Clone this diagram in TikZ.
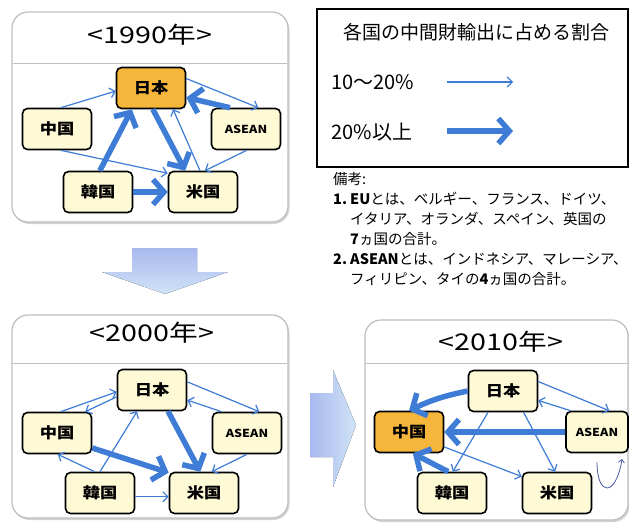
\documentclass[tikz,border=0pt]{standalone}
\usepackage{fontspec}
\setmainfont{Noto Sans CJK JP}
\newfontfamily\boxfont[FakeStretch=1.15]{Noto Sans CJK JP}
\newfontfamily\yearfont[FakeStretch=1.25]{Noto Sans CJK JP}
\usetikzlibrary{arrows.meta,shadows}
\definecolor{flowblue}{RGB}{62,124,214}
\definecolor{boxcream}{RGB}{255,250,214}
\definecolor{hubgold}{RGB}{246,182,60}
\definecolor{framegray}{RGB}{190,190,190}
\definecolor{penblue}{RGB}{72,92,165}
\definecolor{bigtop}{RGB}{168,184,238}
\definecolor{bigbot}{RGB}{208,228,246}
\begin{document}
\begin{tikzpicture}[x=1pt,y=-1pt,
    country/.style={draw,line width=1.6pt,rounded corners=5pt,fill=boxcream,
      minimum width=69pt,minimum height=41pt,inner sep=0pt,
      font=\boxfont\bfseries\fontsize{15}{15}\selectfont},
    hub/.style={country,fill=hubgold},
    asean/.style={font=\boxfont\bfseries\fontsize{11}{11}\selectfont},
    lo/.style={draw=flowblue,line width=1.2pt,-{Straight Barb[length=5pt,width=10pt]}},
    hi/.style={draw=flowblue,line width=5.5pt,-{Straight Barb[length=11pt,width=25pt]}},
    panel/.style={draw=framegray,line width=1.2pt,rounded corners=16pt,fill=white,
      drop shadow={shadow xshift=1.5pt,shadow yshift=-2pt,opacity=.35}},
    year/.style={font=\yearfont\fontsize{23}{23}\selectfont},
    bigarrow/.style={draw=none,top color=bigtop,bottom color=bigbot}]
  \useasboundingbox (0,0) rectangle (629,531);

  % panels
  \draw[panel] (12,12) rectangle (288,222);
  \draw[framegray] (13,63) -- (287,63);
  \node[year] (t90) at (150,35) {<1990年>};
  \draw[panel] (12,315) rectangle (288,518);
  \draw[framegray] (13,363) -- (287,363);
  \node[year] (t00) at (152,333) {<2000年>};
  \draw[panel] (365,320) rectangle (628,520);
  \draw[framegray] (366,363) -- (627,363);
  \node[year] (t10) at (501,342) {<2010年>};

  \fill[bigarrow] (132,248) -- (197,248) -- (197,272) -- (228,272) -- (165,294)
    -- (102,272) -- (132,272) -- cycle;
  \fill[left color=bigtop,right color=bigbot] (310,393) -- (333,393) -- (333,370)
    -- (356,425) -- (333,487) -- (333,457) -- (310,457) -- cycle;

  % legend
  \draw[line width=1.4pt] (317,9) rectangle (628,167);
  \node[font=\fontsize{19}{19}\selectfont] (legtitle) at (476,32) {各国の中間財輸出に占める割合};
  \node[anchor=west,font=\fontsize{20}{20}\selectfont] (leglo) at (328,82) {10〜20\%};
  \node[anchor=west,font=\fontsize{20}{20}\selectfont] (leghi) at (328,132) {20\%以上};
  \coordinate (lo-s) at (447,82);  \coordinate (lo-e) at (513,82);
  \coordinate (hi-s) at (447,131); \coordinate (hi-e) at (513,131);
  \draw[lo] (lo-s) -- (lo-e);
  \draw[hi] (hi-s) -- (hi-e);
  \node[anchor=north west,align=left,inner sep=0pt,font=\fontsize{14.5}{20}\selectfont] (notes) at (333,172) {備考:\\
    \makebox[17pt][l]{\textbf{1.}}\textbf{EU}とは、ベルギー、フランス、ドイツ、\\
    \hspace*{17pt}イタリア、オランダ、スペイン、英国の\\
    \hspace*{17pt}\textbf{7}ヵ国の合計。\\
    \makebox[17pt][l]{\textbf{2.}}\textbf{ASEAN}とは、インドネシア、マレーシア、\\
    \hspace*{17pt}フィリピン、タイの\textbf{4}ヵ国の合計。};

  % 1990
  \node[hub] (jp90) at (151,88) {日本};
  \node[country] (cn90) at (57,129) {中国};
  \node[country,asean] (as90) at (246,129) {ASEAN};
  \node[country] (kr90) at (98,192) {韓国};
  \node[country] (us90) at (203,192) {米国};
  \draw[lo] (cn90.80) -- (jp90.185);
  \draw[lo] (jp90.15) -- (as90.60);
  \draw[hi] (as90.127) -- (jp90.-15);
  \draw[hi] (jp90.-85) -- (us90.130);
  \draw[lo] (us90.98) -- (jp90.-44);
  \draw[lo] (as90.-88) -- (us90.85);
  \draw[lo] (cn90.-80) -- (us90.152);
  \draw[hi] (kr90.85) -- (jp90.228);
  \draw[hi] (kr90.east) -- (us90.west);

  % 2000
  \node[country] (jp00) at (152,390) {日本};
  \node[country] (cn00) at (57,433) {中国};
  \node[country,asean] (as00) at (247,433) {ASEAN};
  \node[country] (kr00) at (100,493) {韓国};
  \node[country] (us00) at (204,493) {米国};
  \draw[lo] (cn00.80) -- (jp00.183);
  \draw[lo] (jp00.191) -- (cn00.37);
  \draw[lo] (jp00.13) -- (as00.60);
  \draw[lo] (as00.140) -- (jp00.-16);
  \draw[hi] (jp00.-53) -- (us00.100);
  \draw[lo] (as00.-90) -- (us00.70);
  \draw[hi] (cn00.-23) -- (us00.150);
  \draw[lo] (kr00.90) -- (jp00.235);
  \draw[lo] (kr00.104) -- (cn00.-88);
  \draw[lo] (kr00.-6) -- (us00.186);

  % 2010
  \node[country] (jp10) at (503,391) {日本};
  \node[hub] (cn10) at (409,432) {中国};
  \node[country,asean,minimum width=62pt] (as10) at (597,432) {ASEAN};
  \node[country] (kr10) at (452,493) {韓国};
  \node[country] (us10) at (557,493) {米国};
  \draw[hi] (jp10.west) to[bend right=7] (cn10.north);
  \draw[lo] (jp10.15) -- (as10.60);
  \draw[lo] (as10.141) -- (jp10.-15);
  \draw[hi] (as10.west) -- (cn10.east);
  \draw[lo] (jp10.235) -- (kr10.88);
  \draw[lo] (jp10.-46) -- (us10.95);
  \draw[lo] (cn10.-23) -- (us10.155);
  \draw[hi] (kr10.100) -- (cn10.-80);
  \coordinate (u-s) at (597,462);
  \coordinate (u-e) at (622,459);
  \draw[penblue,line width=.8pt,-{Straight Barb[length=3pt,width=6pt]}]
    (u-s) .. controls (597,497) and (616,497) .. (u-e);
\end{tikzpicture}
\end{document}
